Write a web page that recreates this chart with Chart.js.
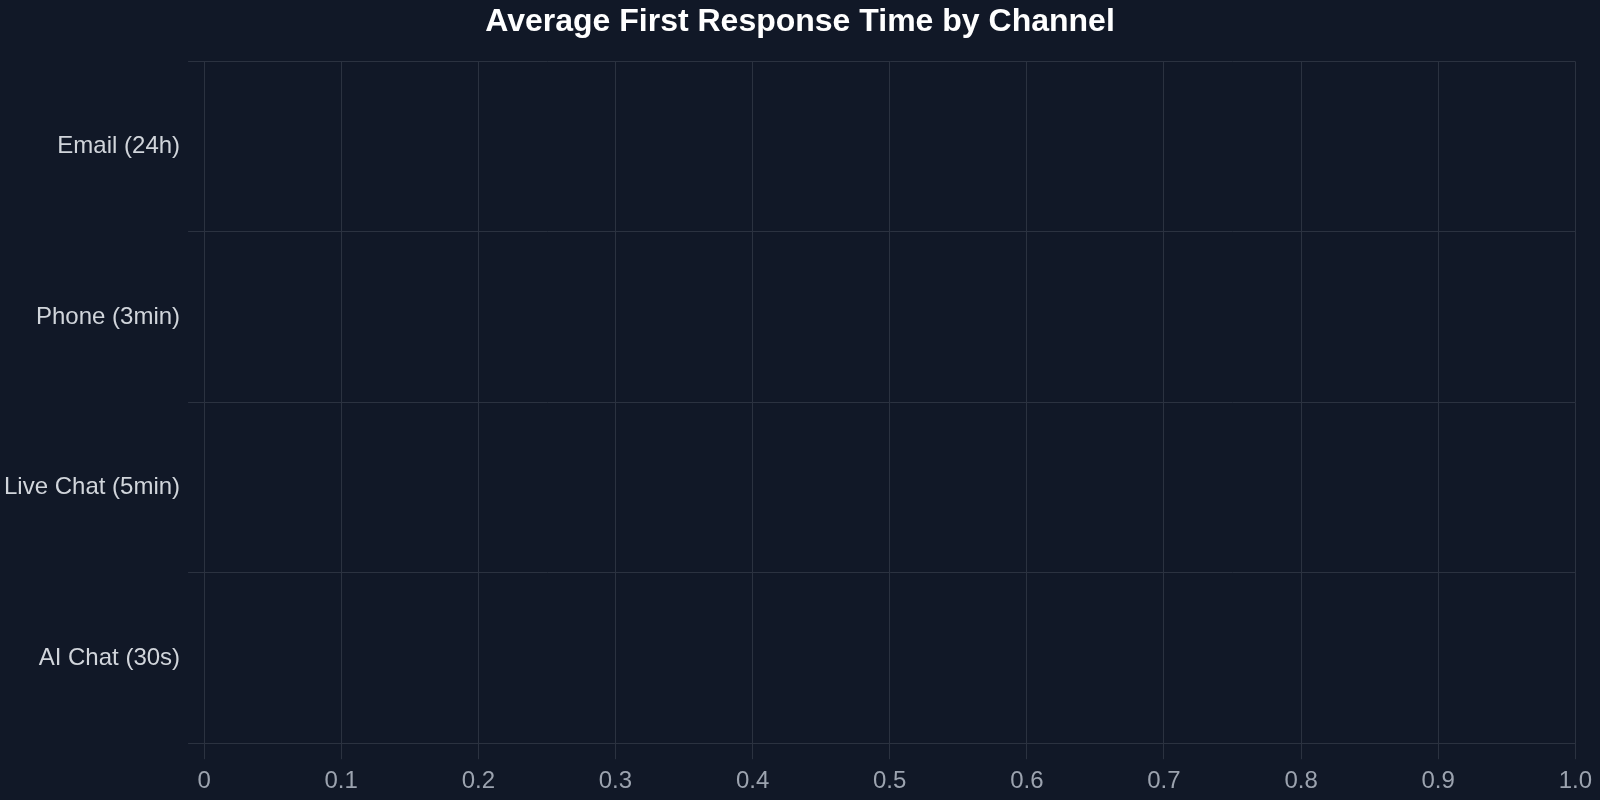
<!DOCTYPE html>
<html>
<head>
<meta charset="utf-8">
<title>Average First Response Time by Channel</title>
<script src="https://cdn.jsdelivr.net/npm/chart.js@4/dist/chart.umd.min.js"></script>
<style>
  html, body { margin: 0; padding: 0; background: #111827; }
  #wrap { width: 1600px; height: 800px; }
</style>
</head>
<body>
<div id="wrap"><canvas id="myChart" width="1600" height="800"></canvas></div>
<script>
// channels, top to bottom
var channels = ['Email (24h)', 'Phone (3min)', 'Live Chat (5min)', 'AI Chat (30s)'];
// no bar is drawn in the picture, so every value reads as zero
var responseValues = [0, 0, 0, 0];

var fontFamily = '"Liberation Sans", Arial, sans-serif';
var gridColor = '#2b3240';

var ctx = document.getElementById('myChart').getContext('2d');
var chart = new Chart(ctx, {
    type: 'bar',
    data: {
        labels: channels,
        datasets: [{
            label: 'Avg first response',
            backgroundColor: '#3b82f6',
            data: responseValues
        }]
    },
    options: {
        indexAxis: 'y',
        responsive: false,
        animation: false,
        layout: {
            padding: { left: -4, right: -4, top: 0, bottom: -4 }
        },
        plugins: {
            legend: { display: false },
            tooltip: { enabled: false },
            title: {
                display: true,
                text: 'Average First Response Time by Channel',
                color: '#ffffff',
                font: { family: fontFamily, size: 32, weight: 'bold' },
                padding: { top: 3, bottom: 20 }
            }
        },
        scales: {
            x: {
                beginAtZero: true,
                // a bit more room on the right than the last label needs
                afterFit: function (scale) { scale.paddingRight = Math.max(scale.paddingRight, 23); },
                grid: { color: gridColor, tickLength: 16 },
                border: { color: gridColor },
                ticks: {
                    color: '#9ca3af',
                    padding: 8,
                    font: { family: fontFamily, size: 24 }
                }
            },
            y: {
                grid: { color: gridColor, tickLength: 16 },
                border: { color: gridColor },
                ticks: {
                    color: '#d1d5db',
                    padding: 8,
                    font: { family: fontFamily, size: 24 }
                }
            }
        }
    }
});
</script>
</body>
</html>
